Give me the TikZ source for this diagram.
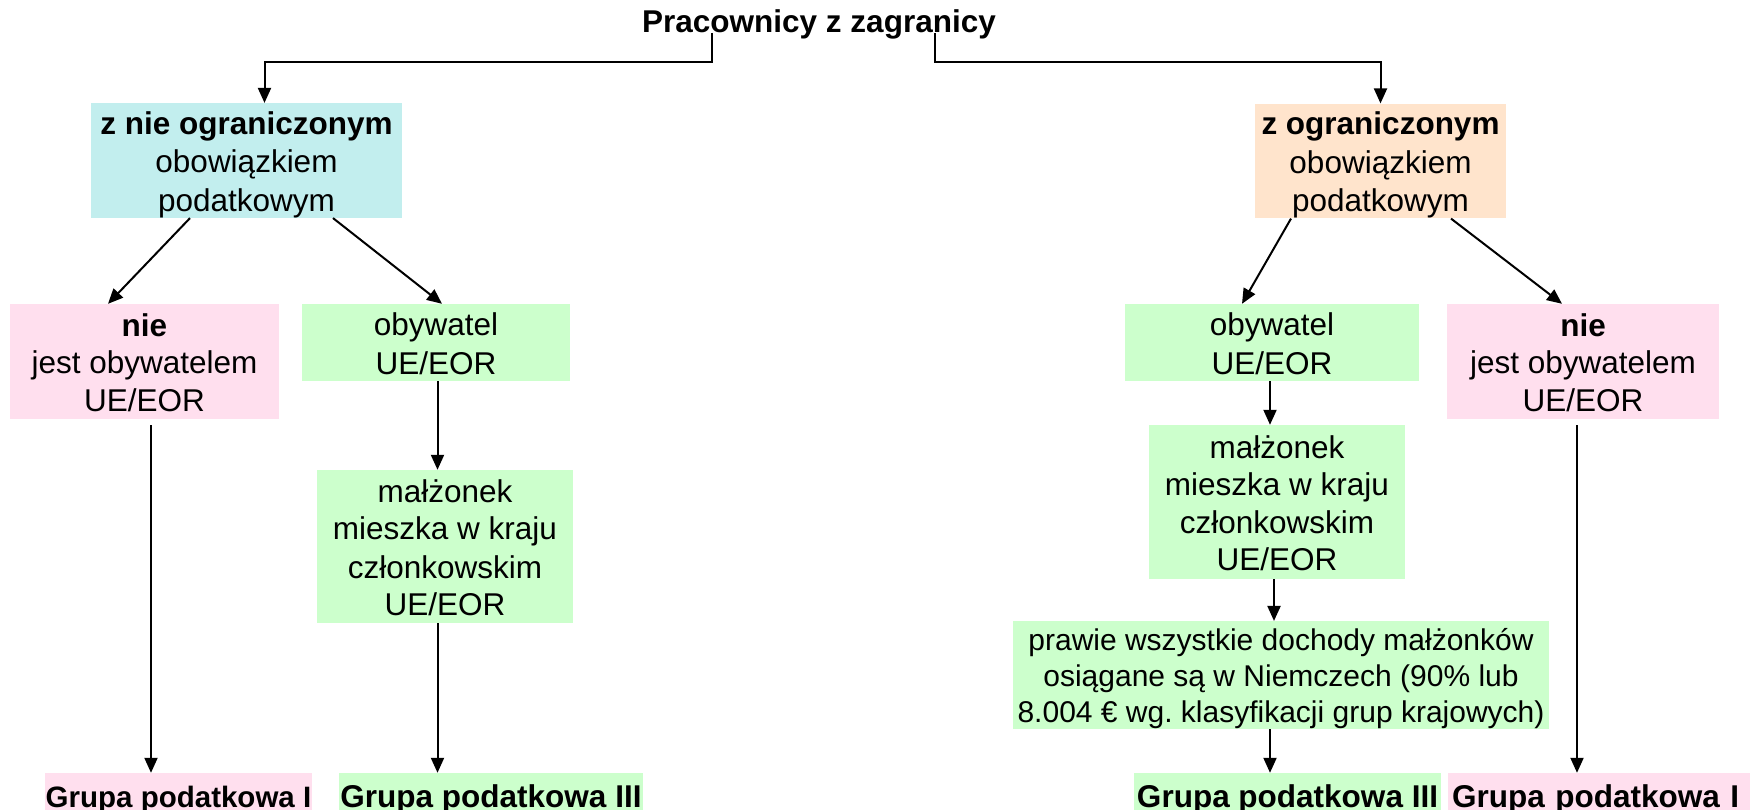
\documentclass[tikz,border=0pt]{standalone}
\usepackage{fontspec}
\setmainfont{Liberation Sans}
\usetikzlibrary{arrows.meta}
\definecolor{cyanbox}{HTML}{C2EEEE}
\definecolor{peachbox}{HTML}{FFE4CC}
\definecolor{pinkbox}{HTML}{FFDFEE}
\definecolor{greenbox}{HTML}{CCFFCC}
\newcommand{\lnb}{\rule[-6pt]{0pt}{37pt}}
\newcommand{\lns}{\rule[-6pt]{0pt}{35pt}}
\frenchspacing
\begin{document}
\begin{tikzpicture}[x=1pt,y=-1pt,
  box/.style={inner sep=0pt, align=center, font=\fontsize{31.5}{37}\selectfont},
  smallbox/.style={inner sep=0pt, align=center, font=\fontsize{30}{35}\selectfont},
  grp/.style={inner sep=0pt, anchor=base, text height=34pt, text depth=10pt, font=\fontsize{31.5}{37}\selectfont\bfseries},
  arr/.style={line width=2pt, -{Triangle[length=15pt,width=13pt]}}]
\clip (0,0) rectangle (1750,810);
\fill[white] (0,0) rectangle (1750,810);

\node[inner sep=0pt, anchor=base, font=\fontsize{31.5}{37}\selectfont\bfseries] (title) at (819,33) {Pracownicy z zagranicy};

\node[box, fill=cyanbox, minimum width=311pt, minimum height=105pt] (unl) at (246.5,160.5) {\lnb\textbf{z nie ograniczonym}\\\lnb obowiązkiem\\\lnb podatkowym};
\node[box, fill=peachbox, minimum width=251pt, minimum height=106pt] (lim) at (1380.5,161) {\lnb\textbf{z ograniczonym}\\\lnb obowiązkiem\\\lnb podatkowym};

\node[box, fill=pinkbox, minimum width=269pt, minimum height=115pt] (pinkL) at (144.5,361.5) {\lnb\textbf{nie}\\\lnb jest obywatelem\\\lnb UE/EOR};
\node[box, fill=greenbox, minimum width=268pt, minimum height=77pt] (obyL) at (436,342.5) {\lnb obywatel\\\lnb UE/EOR};
\node[box, fill=greenbox, minimum width=256pt, minimum height=153pt] (malL) at (445,546.5) {\lnb małżonek\\\lnb mieszka w kraju\\\lnb członkowskim\\\lnb UE/EOR};

\node[box, fill=greenbox, minimum width=294pt, minimum height=77pt] (obyR) at (1272,342.5) {\lnb obywatel\\\lnb UE/EOR};
\node[box, fill=pinkbox, minimum width=272pt, minimum height=115pt] (pinkR) at (1583,361.5) {\lnb\textbf{nie}\\\lnb jest obywatelem\\\lnb UE/EOR};
\node[box, fill=greenbox, minimum width=256pt, minimum height=154pt] (malR) at (1277,502) {\lnb małżonek\\\lnb mieszka w kraju\\\lnb członkowskim\\\lnb UE/EOR};
\node[smallbox, fill=greenbox, minimum width=536pt, minimum height=106pt] (prawie) at (1281,675) {\lns prawie wszystkie dochody małżonków\\\lns osiągane są w Niemczech (90\% lub\\\lns 8.004 € wg. klasyfikacji grup krajowych)};

\node[grp, fill=pinkbox, minimum width=267pt, font=\fontsize{29.5}{35}\selectfont\bfseries] (grpL1) at (178.5,807) {Grupa podatkowa I};
\node[grp, fill=greenbox, minimum width=304pt] (grpL3) at (491,807) {Grupa podatkowa III};
\node[grp, fill=greenbox, minimum width=307pt] (grpR3) at (1287.5,807) {Grupa podatkowa III};
\node[grp, fill=pinkbox, minimum width=306pt, text width=306pt, align=left] (grpR1) at (1601,807) {\hspace{4pt}Grupa podatkowa I};

\draw[arr] ([xshift=-107pt]title.base) -- ++(0,29) -| ([xshift=18pt]unl.north);
\draw[arr] ([xshift=116pt]title.base) -- ++(0,29) -| (lim.north);

\draw[arr] ([xshift=-56.5pt]unl.south) -- ([xshift=-36.5pt]pinkL.north);
\draw[arr] ([xshift=86.5pt]unl.south) -- ([xshift=6pt]obyL.north);
\draw[arr] ([xshift=1.5pt]obyL.south) -- ([xshift=1.5pt]obyL.south |- malL.north);
\draw[arr] ([xshift=6.5pt,yshift=-6pt]pinkL.south) -- ([xshift=6.5pt]pinkL.south |- grpL1.north);
\draw[arr] ([xshift=-7.5pt]malL.south) -- ([xshift=-7.5pt]malL.south |- grpL3.north);

\draw[arr] ([xshift=-89.5pt]lim.south) -- ([xshift=-30pt]obyR.north);
\draw[arr] ([xshift=70.5pt]lim.south) -- ([xshift=-21pt]pinkR.north);
\draw[arr] ([xshift=-2pt]obyR.south) -- ([xshift=-2pt]obyR.south |- malR.north);
\draw[arr] ([xshift=-3pt]malR.south) -- ([xshift=-3pt]malR.south |- prawie.north);
\draw[arr] ([xshift=-11pt]prawie.south) -- ([xshift=-11pt]prawie.south |- grpR3.north);
\draw[arr] ([xshift=-6pt,yshift=-6pt]pinkR.south) -- ([xshift=-6pt]pinkR.south |- grpR1.north);
\end{tikzpicture}
\end{document}
